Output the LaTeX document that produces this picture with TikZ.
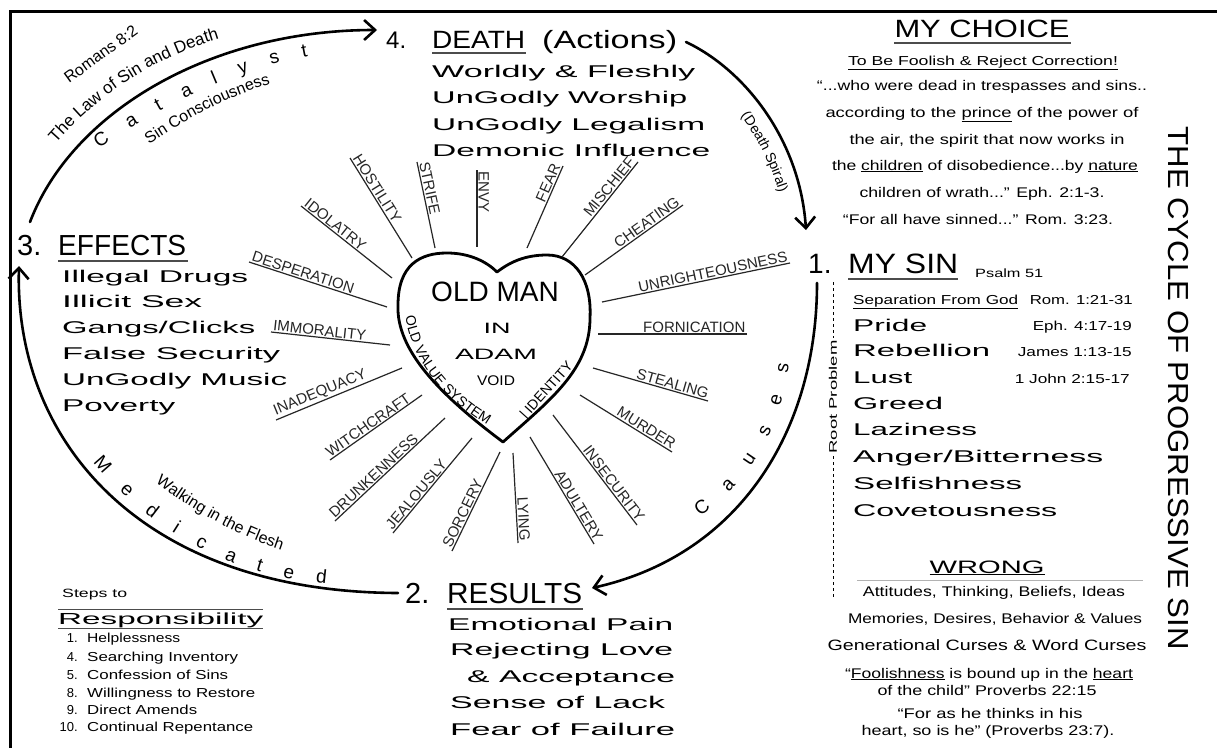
\documentclass[tikz,border=0pt]{standalone}
\usepackage{fontspec}
\setmainfont{Liberation Sans}
\usepackage{graphicx}
\usetikzlibrary{arrows.meta,decorations.text}
\newcommand\fsz[1]{\fontsize{#1}{#1}\selectfont}
\newcommand\fw[2]{\resizebox{#1pt}{\height}{#2}}
\newcommand\dfA{\fontsize{16}{16}\selectfont}
\newcommand\dfB{\fontsize{19}{19}\selectfont}
\newcommand\dfC{\fontsize{14}{14}\selectfont}
\newcommand\dfD{\fontsize{17}{17}\selectfont}
\newcommand\spokeL[5]{\draw[spk] (#1) -- (#2) node[spl,pos=0,anchor=south west,rotate=#3] (#4) {#5};}
\newcommand\spokeR[5]{\draw[spk] (#1) -- (#2) node[spl,pos=0,anchor=south east,rotate=#3] (#4) {#5};}
\begin{document}
\begin{tikzpicture}[x=1pt,y=-1pt,
  lbl/.style={inner sep=0pt,anchor=base west},
  lbr/.style={inner sep=0pt,anchor=base east},
  lbc/.style={inner sep=0pt,anchor=base},
  wide/.style={lbl,font=\fsz{17}},
  verse/.style={lbc,font=\fsz{14}},
  small/.style={lbl,font=\fsz{13}},
  spk/.style={line width=1.2pt,black!85},
  spl/.style={inner sep=1pt,font=\fsz{15}},
  cyc/.style={line width=2.6pt,line cap=round},
  tip/.style={-{Straight Barb[length=11pt,width=20pt]}},
  rule/.style={line width=1.4pt,black!70},
  along/.style={decorate,decoration={text along path,text align=center,text={#1}}},
  spread/.style={decorate,decoration={text along path,text align={fit to path stretching spaces},text={#1}}}]
\useasboundingbox (0,0) rectangle (1217,747);
\fill[white] (0,0) rectangle (1217,747);
% frame
\draw[line width=3pt] (10,750) -- (10,11.5) -- (1220,11.5);

% cycle arcs
\coordinate (c3) at (30,222);
\coordinate (c4) at (377,30);
\coordinate (d4) at (686,42);
\coordinate (d1) at (806,230);
\coordinate (e1) at (817,283);
\coordinate (e2) at (592,588);
\coordinate (f2) at (398,593);
\coordinate (f3) at (19,266);
\draw[cyc,tip] (c3) .. controls (72,112) and (210,30) .. (c4);
\draw[cyc,tip] (d4) .. controls (745,70) and (800,140) .. (d1);
\draw[cyc,tip] (e1) .. controls (817,430) and (740,555) .. (e2);
\draw[cyc,tip] (f2) .. controls (140,592) and (14,440) .. (f3);

% arc texts
\path[along={|\dfA|Romans 8:2}] (66,86) -- (142,31);
\path[along={|\dfD|The Law of Sin and Death}] (50,150) .. controls (95,97) and (150,58) .. (228,36);
\path[spread={|\dfB|C a t a l y s t}] (99,149) .. controls (160,108) and (225,72) .. (308,56);
\path[along={|\dfA|Sin Consciousness}] (147,146) .. controls (185,120) and (225,97) .. (273,83);
\path[along={|\dfC|(Death Spiral)}] (733,106) .. controls (756,133) and (773,168) .. (783,205);
\path[spread={|\dfB|C a u s e s}] (700,516) .. controls (745,485) and (780,435) .. (789,364);
\path[spread={|\dfB|M e d i c a t e d}] (93,462) .. controls (150,530) and (230,575) .. (326,584);
\path[along={|\dfA|Walking in the Flesh}] (145,474) .. controls (190,510) and (240,538) .. (294,554);

% heart
\draw[line width=2.8pt,line join=round] (503,442) .. controls (440,395) and (396,350) .. (398,305)
  .. controls (398,265) and (420,253) .. (447,253) .. controls (470,253) and (487,262) .. (497,272)
  .. controls (510,262) and (525,255) .. (547,255) .. controls (575,255) and (592,280) .. (590,318)
  .. controls (590,370) and (550,400) .. cycle;
\node[font=\fsz{28},inner sep=0pt] (oldman) at (495,292) {OLD MAN};
\node[font=\fsz{15},inner sep=0pt] (in) at (497,328) {\fw{27}{IN}};
\node[font=\fsz{15},inner sep=0pt] (adam) at (496,354) {\fw{82}{ADAM}};
\node[font=\fsz{14},inner sep=0pt] (void) at (496,381) {\fw{38}{VOID}};
\node[font=\fsz{14},rotate=48,inner sep=0pt] (ident) at (547,391) {| IDENTITY};
\path[along={|\dfC|OLD VALUE SYSTEM}] (404,302) .. controls (406,355) and (440,400) .. (500,432);

% spokes
\spokeL{477,170}{477,247}{-90}{sEnvy}{ENVY}
\spokeR{563,166}{527,248}{66}{sFear}{FEAR}
\spokeR{638,162}{562,257}{51}{sMisch}{MISCHIEF}
\spokeR{683,205}{585,275}{35.5}{sCheat}{CHEATING}
\spokeR{790,263}{602,302}{11.7}{sUnr}{UNRIGHTEOUSNESS}
\spokeR{747,334}{598,334}{0}{sForn}{FORNICATION}
\spokeR{708,401}{593,368}{-16}{sSteal}{STEALING}
\spokeR{672,452}{580,395}{-32}{sMurd}{MURDER}
\spokeR{637,525}{553,415}{-52.6}{sInsec}{INSECURITY}
\spokeR{594,544}{530,437}{-59}{sAdult}{ADULTERY}
\spokeR{518,543}{513,453}{-87}{sLying}{LYING}
\spokeL{452,551}{500,452}{64}{sSorc}{SORCERY}
\spokeL{393,533}{472,438}{50}{sJeal}{JEALOUSLY}
\spokeL{335,521}{445,418}{43}{sDrunk}{DRUNKENNESS}
\spokeL{330,460}{422,395}{35}{sWitch}{WITCHCRAFT}
\spokeL{276,420}{402,368}{22.4}{sInad}{INADEQUACY}
\spokeL{271,332}{390,345}{-6.2}{sImmor}{IMMORALITY}
\spokeL{249,262}{387,307}{-18}{sDesp}{DESPERATION}
\spokeL{301,206}{392,278}{-38.4}{sIdol}{IDOLATRY}
\spokeL{350,158}{412,258}{-58}{sHost}{HOSTILITY}
\spokeL{417,162}{435,248}{-78}{sStrife}{STRIFE}

% 4. DEATH
\node[lbl,font=\fsz{24}] (n4) at (386,48) {4.};
\node[lbl,font=\fsz{25}] (death) at (432,48) {\fw{93}{DEATH}};
\node[lbl,font=\fsz{25}] (actions) at (542,48) {\fw{135}{(Actions)}};
\draw[rule] (432,53) -- (526,53);
\node[wide] (d1t) at (432,77) {\fw{263}{Worldly \& Fleshly}};
\node[wide] (d2t) at (432,103) {\fw{255}{UnGodly Worship}};
\node[wide] (d3t) at (432,130) {\fw{273}{UnGodly Legalism}};
\node[wide] (d4t) at (432,156) {\fw{278}{Demonic Influence}};

% 3. EFFECTS
\node[lbl,font=\fsz{29}] (n3) at (17,255) {3.};
\node[lbl,font=\fsz{29}] (effects) at (58,255) {\fw{128}{EFFECTS}};
\draw[rule] (58,261) -- (188,261);
\node[wide] (e1t) at (62,282.5) {\fw{186}{Illegal Drugs}};
\node[wide] (e2t) at (62,307.5) {\fw{140}{Illicit Sex}};
\node[wide] (e3t) at (62,333.5) {\fw{193}{Gangs/Clicks}};
\node[wide] (e4t) at (62,359.5) {\fw{218}{False Security}};
\node[wide] (e5t) at (62,385.5) {\fw{225}{UnGodly Music}};
\node[wide] (e6t) at (62,411.5) {\fw{113}{Poverty}};

% 2. RESULTS
\node[lbl,font=\fsz{29}] (n2) at (405,603) {2.};
\node[lbl,font=\fsz{29}] (results) at (447,603) {\fw{135}{RESULTS}};
\draw[rule] (447,609) -- (583,609);
\node[wide] (r1t) at (448,630) {\fw{225}{Emotional Pain}};
\node[wide] (r2t) at (450,655) {\fw{223}{Rejecting Love}};
\node[wide] (r3t) at (467,682) {\fw{208}{\& Acceptance}};
\node[wide] (r4t) at (450,708) {\fw{215}{Sense of Lack}};
\node[wide] (r5t) at (450,735) {\fw{225}{Fear of Failure}};

% MY CHOICE
\node[lbc,font=\fsz{25}] (choice) at (982,37) {\fw{175}{MY CHOICE}};
\draw[rule] (894,43) -- (1071,43);
\node[lbc,font=\fsz{13}] (foolish) at (983,65) {\fw{270}{\underline{To Be Foolish \& Reject Correction!}}};
\node[verse] (v1) at (982,90) {\fw{330}{“...who were dead in trespasses and sins..}};
\node[verse] (v2) at (982,117) {\fw{313}{according to the \underline{prince} of the power of}};
\node[verse] (v3) at (987,144) {\fw{275}{the air, the spirit that now works in}};
\node[verse] (v4) at (985,170) {\fw{306}{the \underline{children} of disobedience...by \underline{nature}}};
\node[verse] (v5) at (982,197) {\fw{245}{children of wrath...” Eph. 2:1-3.}};
\node[verse] (v6) at (978,224) {\fw{270}{“For all have sinned...” Rom. 3:23.}};

% title
\node[font=\fsz{29},rotate=-90] (title) at (1178,388) {\fw{523}{THE CYCLE OF PROGRESSIVE SIN}};

% 1. MY SIN
\node[lbl,font=\fsz{28}] (n1) at (808,273) {1.};
\node[lbl,font=\fsz{28}] (mysin) at (848,273) {\fw{110}{MY SIN}};
\draw[rule] (848,279) -- (958,279);
\node[lbl,font=\fsz{12}] (psalm) at (975,277) {\fw{68}{Psalm 51}};
\node[small] (sep) at (853,304) {\fw{165}{\underline{Separation From God}}};
\node[lbr,font=\fsz{13}] (ref1) at (1133,304) {\fw{103}{Rom. 1:21-31}};
\node[wide] (m1) at (853,331) {\fw{74}{Pride}};
\node[lbr,font=\fsz{13}] (ref2) at (1132,330) {\fw{99}{Eph. 4:17-19}};
\node[wide] (m2) at (853,356) {\fw{137}{Rebellion}};
\node[lbr,font=\fsz{13}] (ref3) at (1132,356) {\fw{114}{James 1:13-15}};
\node[wide] (m3) at (853,383) {\fw{59}{Lust}};
\node[lbr,font=\fsz{13}] (ref4) at (1130,383) {\fw{115}{1 John 2:15-17}};
\node[wide] (m4) at (853,409) {\fw{90}{Greed}};
\node[wide] (m5) at (853,435) {\fw{124}{Laziness}};
\node[wide] (m6) at (853,462) {\fw{250}{Anger/Bitterness}};
\node[wide] (m7) at (853,489) {\fw{169}{Selfishness}};
\node[wide] (m8) at (853,516) {\fw{204}{Covetousness}};
\draw[dashed,line width=0.7pt] (833,282) -- (833,338);
\draw[dashed,line width=0.7pt] (833,456) -- (833,598);
\node[font=\fsz{11},rotate=90,inner sep=1pt] (root) at (833,397) {\fw{113}{Root Problem}};

% WRONG
\node[lbc,font=\fsz{18}] (wrong) at (987,573) {\fw{115}{\underline{WRONG}}};
\draw[gray!60,line width=0.5pt] (857,580) -- (1143,580);
\node[verse] (w1) at (994,596) {\fw{262}{Attitudes, Thinking, Beliefs, Ideas}};
\node[verse] (w2) at (995,623) {\fw{294}{Memories, Desires, Behavior \& Values}};
\node[lbc,font=\fsz{15}] (w3) at (987,650) {\fw{319}{Generational Curses \& Word Curses}};
\node[verse] (w4) at (989,678) {\fw{288}{“\underline{Foolishness} is bound up in the \underline{heart}}};
\node[verse] (w5) at (987,695) {\fw{219}{of the child” Proverbs 22:15}};
\node[verse] (w6) at (990,718) {\fw{185}{“For as he thinks in his}};
\node[verse] (w7) at (988,735) {\fw{253}{heart, so is he” (Proverbs 23:7).}};

% Steps to Responsibility
\node[lbl,font=\fsz{12}] (steps) at (62,597) {\fw{65}{Steps to}};
\draw[line width=1pt,black!70] (58,609) -- (263,609);
\node[lbl,font=\fsz{16}] (resp) at (58,624) {\fw{205}{Responsibility}};
\draw[line width=1pt,black!70] (58,628) -- (263,628);
\node[lbr,font=\fsz{13}] (k1) at (78,642) {1.};
\node[small] (t1) at (87,642) {\fw{93}{Helplessness}};
\node[lbr,font=\fsz{13}] (k4) at (78,661) {4.};
\node[small] (t4) at (87,661) {\fw{151}{Searching Inventory}};
\node[lbr,font=\fsz{13}] (k5) at (78,679) {5.};
\node[small] (t5) at (87,679) {\fw{141}{Confession of Sins}};
\node[lbr,font=\fsz{13}] (k8) at (78,697) {8.};
\node[small] (t8) at (87,697) {\fw{168}{Willingness to Restore}};
\node[lbr,font=\fsz{13}] (k9) at (78,714) {9.};
\node[small] (t9) at (87,714) {\fw{110}{Direct Amends}};
\node[lbr,font=\fsz{13}] (k10) at (78,731) {10.};
\node[small] (t10) at (87,731) {\fw{166}{Continual Repentance}};
\end{tikzpicture}
\end{document}
